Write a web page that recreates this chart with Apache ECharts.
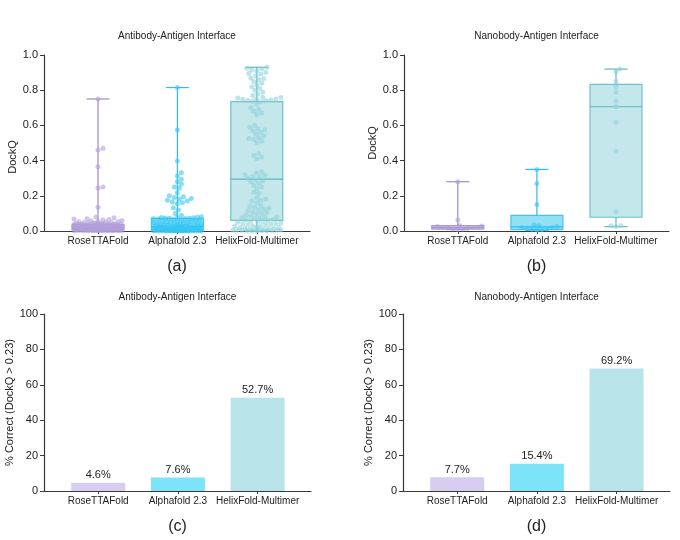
<!DOCTYPE html>
<html><head><meta charset="utf-8">
<script src="https://cdn.jsdelivr.net/npm/echarts@6/dist/echarts.min.js"></script>
<style>html,body{margin:0;padding:0;background:#fff}#c{width:680px;height:540px}</style>
</head><body><div id="c"></div>
<script>
const categories = ['RoseTTAFold', 'Alphafold 2.3', 'HelixFold-Multimer'];

// Box stats: [min, q1, median, q3, max]
const antibodyBox = [
  [0, 0.008, 0.02, 0.038, 0.75],
  [0, 0.005, 0.025, 0.072, 0.815],
  [0, 0.06, 0.295, 0.735, 0.93]
];
const nanobodyBox = [
  [0.01, 0.011, 0.02, 0.03, 0.28],
  [0.005, 0.008, 0.024, 0.089, 0.35],
  [0.025, 0.078, 0.706, 0.833, 0.92]
];

// Individual DockQ values (estimated from the dots)
const antibodyRose = [0.75, 0.47, 0.46, 0.365, 0.25, 0.245, 0.135, 0.08,
  0.075, 0.07, 0.068, 0.065, 0.062, 0.06, 0.058, 0.056, 0.054, 0.052, 0.05, 0.049, 0.048, 0.046, 0.045, 0.044, 0.043, 0.042, 0.041, 0.04, 0.04, 0.039, 0.039, 0.038, 0.038, 0.038,
  0.037, 0.036, 0.036, 0.035, 0.035, 0.034, 0.033, 0.033, 0.032, 0.031, 0.031, 0.03, 0.03, 0.029, 0.028, 0.028, 0.027, 0.027, 0.026, 0.025, 0.025, 0.024, 0.024, 0.023, 0.023, 0.022, 0.022, 0.021, 0.021, 0.02, 0.02, 0.02,
  0.019, 0.019, 0.018, 0.018, 0.017, 0.017, 0.016, 0.016, 0.015, 0.015, 0.015, 0.014, 0.014, 0.013, 0.013, 0.013, 0.012, 0.012, 0.012, 0.011, 0.011, 0.011, 0.01, 0.01, 0.01, 0.01, 0.009, 0.009, 0.009, 0.008, 0.008, 0.008,
  0.007, 0.007, 0.007, 0.007, 0.007, 0.006, 0.006, 0.006, 0.006, 0.006, 0.005, 0.005, 0.005, 0.005, 0.005, 0.004, 0.004, 0.004, 0.004, 0.004, 0.003, 0.003, 0.003, 0.003, 0.003, 0.002, 0.002, 0.002, 0.002, 0.001, 0.001, 0.001, 0.001];
const antibodyAlpha = [0.815, 0.574, 0.398, 0.331, 0.3125, 0.294, 0.28, 0.267, 0.25, 0.243,
  0.218, 0.2, 0.195, 0.19, 0.185, 0.18, 0.175, 0.17, 0.165, 0.16, 0.155, 0.13, 0.12, 0.1, 0.09, 0.081,
  0.078, 0.077, 0.076, 0.075, 0.074, 0.073, 0.072,
  0.071, 0.07, 0.068, 0.066, 0.064, 0.062, 0.06, 0.058, 0.056, 0.054, 0.052, 0.05, 0.048, 0.046, 0.045, 0.044, 0.042, 0.04, 0.039, 0.038, 0.036, 0.035, 0.034, 0.033, 0.032, 0.031, 0.03, 0.029, 0.028, 0.027, 0.026, 0.025, 0.025,
  0.024, 0.023, 0.022, 0.021, 0.02, 0.02, 0.019, 0.018, 0.017, 0.016, 0.016, 0.015, 0.014, 0.013, 0.013, 0.012, 0.011, 0.011, 0.01, 0.01, 0.009, 0.009, 0.008, 0.008, 0.007, 0.007, 0.006, 0.006, 0.006, 0.005, 0.005, 0.005,
  0.004, 0.004, 0.004, 0.004, 0.004, 0.004, 0.004, 0.004, 0.003, 0.003, 0.003, 0.003, 0.003, 0.003, 0.003, 0.003, 0.002, 0.002, 0.002, 0.002, 0.002, 0.002, 0.002, 0.002, 0.001, 0.001, 0.001, 0.001, 0.001, 0.001, 0.001, 0.001, 0.001];
const antibodyHelix = [0.93, 0.925, 0.92, 0.915, 0.91, 0.9, 0.895, 0.89, 0.88, 0.87, 0.865, 0.86, 0.85, 0.84, 0.83, 0.82, 0.81, 0.8, 0.79, 0.78, 0.77, 0.76,
  0.758, 0.755, 0.752, 0.75, 0.748, 0.745, 0.742, 0.74, 0.738, 0.735,
  0.72, 0.7, 0.69, 0.68, 0.67, 0.66,
  0.6, 0.59, 0.58, 0.575, 0.57, 0.56, 0.55, 0.54, 0.53, 0.525, 0.52, 0.51, 0.5,
  0.44, 0.43, 0.42, 0.41,
  0.335, 0.33, 0.32, 0.315, 0.31, 0.305, 0.3,
  0.29, 0.285, 0.28, 0.27, 0.26, 0.25, 0.24,
  0.22, 0.215, 0.19, 0.18, 0.175, 0.17, 0.16,
  0.145, 0.14, 0.135, 0.13, 0.125, 0.12, 0.115, 0.11, 0.105, 0.1, 0.095, 0.09,
  0.085, 0.08, 0.078, 0.075, 0.072, 0.07, 0.065, 0.062,
  0.058, 0.055, 0.052, 0.05, 0.048, 0.045, 0.042, 0.04, 0.038, 0.035, 0.032, 0.03, 0.028, 0.025, 0.022, 0.02, 0.018, 0.016, 0.014, 0.012, 0.01, 0.009, 0.008, 0.007, 0.006, 0.005, 0.005, 0.004, 0.004, 0.003, 0.003, 0.002, 0.002, 0.001, 0.001];

const nanobodyRose = [0.28, 0.063, 0.03, 0.028, 0.025, 0.022, 0.02, 0.02, 0.018, 0.015, 0.012, 0.011, 0.01];
const nanobodyAlpha = [0.35, 0.27, 0.15, 0.034, 0.03, 0.024, 0.02, 0.018, 0.015, 0.012, 0.01, 0.008, 0.005];
const nanobodyHelix = [0.92, 0.905, 0.85, 0.82, 0.788, 0.739, 0.706, 0.62, 0.453, 0.11, 0.03, 0.03, 0.025];

// % correct (DockQ > 0.23)
const antibodyCorrect = [4.6, 7.6, 52.7];
const nanobodyCorrect = [7.7, 15.4, 69.2];

const titles = ['Antibody-Antigen Interface', 'Nanobody-Antigen Interface', 'Antibody-Antigen Interface', 'Nanobody-Antigen Interface'];
const panelLabels = ['(a)', '(b)', '(c)', '(d)'];

// ---------- styling ----------
const FONT = 'Liberation Sans, Arial, Helvetica, sans-serif';
const boxStroke = ['#9d8bc8', '#2bbdee', '#5db7c2'];
const boxFill = ['#cfc4ea', '#7fdbf7', '#b9e3e8'];
const dotColor = ['#b09fdb', '#36c7f3', '#8fd2db'];
const barColor = ['#d6cdef', '#7de3f8', '#b8e3e8'];
const AXIS = '#3a3a3a';
const XMIN = -0.68, XMAX = 2.67;

const grids = [
  {left: 44, top: 55, width: 266, height: 176},
  {left: 404, top: 55, width: 265, height: 176},
  {left: 44, top: 314, width: 267, height: 177},
  {left: 403, top: 314, width: 267, height: 177}
];

function swarm(values, idx, ppuX, ppuY, diam, maxHalf) {
  const order = values.map((v, i) => i).sort((a, b) => values[a] - values[b]);
  const placed = [];
  const out = [];
  const cand = [0];
  for (let k = 1; k <= maxHalf; k++) cand.push(k, -k);
  for (const i of order) {
    const py = values[i] * ppuY;
    let best = 0, bestD = -1;
    for (const dx of cand) {
      let minD = Infinity;
      for (const p of placed) {
        const d = Math.hypot(p[0] - dx, p[1] - py);
        if (d < minD) minD = d;
      }
      if (minD >= diam) { best = dx; bestD = minD; break; }
      if (minD > bestD + 0.3) { bestD = minD; best = dx; }
    }
    placed.push([best, py]);
    out.push([idx + best / ppuX, values[i]]);
  }
  return out;
}

function renderBox(params, api) {
  const x = api.value(0);
  const pMin = api.coord([x, api.value(1)]);
  const pQ1 = api.coord([x, api.value(2)]);
  const pMed = api.coord([x, api.value(3)]);
  const pQ3 = api.coord([x, api.value(4)]);
  const pMax = api.coord([x, api.value(5)]);
  const cx = pMed[0];
  const hw = 26, cw = 11.5;
  const stroke = boxStroke[x];
  const ls = {stroke: stroke, lineWidth: 1.2};
  return {type: 'group', children: [
    {type: 'line', shape: {x1: cx, y1: pMax[1], x2: cx, y2: pQ3[1]}, style: ls},
    {type: 'line', shape: {x1: cx, y1: pQ1[1], x2: cx, y2: pMin[1]}, style: ls},
    {type: 'line', shape: {x1: cx - cw, y1: pMax[1], x2: cx + cw, y2: pMax[1]}, style: ls},
    {type: 'line', shape: {x1: cx - cw, y1: pMin[1], x2: cx + cw, y2: pMin[1]}, style: ls},
    {type: 'rect', shape: {x: cx - hw, y: pQ3[1], width: 2 * hw, height: pQ1[1] - pQ3[1]},
      style: {fill: boxFill[x], stroke: stroke, lineWidth: 1.2, opacity: 0.85}},
    {type: 'line', shape: {x1: cx - hw, y1: pMed[1], x2: cx + hw, y2: pMed[1]}, style: ls}
  ]};
}

function xAxisFor(gi) {
  return {
    type: 'value', gridIndex: gi, min: XMIN, max: XMAX,
    axisLine: {show: true, onZero: false, lineStyle: {color: AXIS, width: 1.2}},
    axisTick: {show: true, customValues: [0, 1, 2], length: 3, lineStyle: {color: AXIS}},
    axisLabel: {show: true, customValues: [0, 1, 2], formatter: v => categories[Math.round(v)],
      fontSize: 10, color: '#222', fontFamily: FONT, margin: 5},
    splitLine: {show: false}
  };
}
function yAxisFor(gi, dock, nameGap, namePad) {
  return {
    type: 'value', gridIndex: gi, min: 0, max: dock ? 1 : 100, interval: dock ? 0.2 : 20,
    name: dock ? 'DockQ' : '% Correct (DockQ > 0.23)', nameLocation: 'middle', nameGap: nameGap,
    nameTextStyle: {fontSize: 11, color: '#222', fontFamily: FONT, padding: namePad || 0},
    axisLine: {show: true, onZero: false, lineStyle: {color: AXIS, width: 1.2}},
    axisTick: {show: true, length: 4, lineStyle: {color: AXIS}},
    axisLabel: {fontSize: 11, color: '#222', fontFamily: FONT, margin: 6,
      formatter: v => dock ? v.toFixed(1) : String(v)},
    splitLine: {show: false}
  };
}

const series = [];
function addBoxPanel(gi, box, groups) {
  const g = grids[gi];
  const ppuX = g.width / (XMAX - XMIN), ppuY = g.height;
  series.push({
    type: 'custom', xAxisIndex: gi, yAxisIndex: gi, z: 2,
    renderItem: renderBox, encode: {x: 0, y: [1, 2, 3, 4, 5]},
    data: box.map((b, i) => [i].concat(b)), silent: true
  });
  groups.forEach((vals, i) => {
    series.push({
      type: 'scatter', xAxisIndex: gi, yAxisIndex: gi, z: 3,
      symbolSize: 5, itemStyle: {color: dotColor[i], opacity: 0.6},
      data: swarm(vals, i, ppuX, ppuY, 4.6, 24), silent: true
    });
  });
}
function addBarPanel(gi, vals) {
  series.push({
    type: 'bar', xAxisIndex: gi, yAxisIndex: gi, barWidth: 54,
    data: vals.map((v, i) => [i, v]),
    itemStyle: {color: p => barColor[p.dataIndex]},
    label: {show: true, position: 'top', distance: 2, fontSize: 11, color: '#222', fontFamily: FONT,
      formatter: p => p.value[1].toFixed(1) + '%'},
    silent: true
  });
}
addBoxPanel(0, antibodyBox, [antibodyRose, antibodyAlpha, antibodyHelix]);
addBoxPanel(1, nanobodyBox, [nanobodyRose, nanobodyAlpha, nanobodyHelix]);
addBarPanel(2, antibodyCorrect);
addBarPanel(3, nanobodyCorrect);

const titleOpts = [];
grids.forEach((g, i) => {
  const cx = g.left + g.width / 2;
  titleOpts.push({text: titles[i], left: cx, top: i < 2 ? 31 : 292, textAlign: 'center', padding: 0,
    textStyle: {fontSize: 10, fontWeight: 'normal', color: '#222', fontFamily: FONT}});
  titleOpts.push({text: panelLabels[i], left: cx, top: i < 2 ? 259 : 519, textAlign: 'center', padding: 0,
    textStyle: {fontSize: 16, fontWeight: 'normal', color: '#222', fontFamily: FONT}});
});

const chart = echarts.init(document.getElementById('c'), null, {renderer: 'canvas'});
chart.setOption({
  backgroundColor: '#fff',
  animation: false,
  title: titleOpts,
  grid: grids,
  xAxis: [xAxisFor(0), xAxisFor(1), xAxisFor(2), xAxisFor(3)],
  yAxis: [yAxisFor(0, true, 25, [0, 28, 0, 0]), yAxisFor(1, true, 25), yAxisFor(2, false, 21), yAxisFor(3, false, 21)],
  series: series
});
</script></body></html>
